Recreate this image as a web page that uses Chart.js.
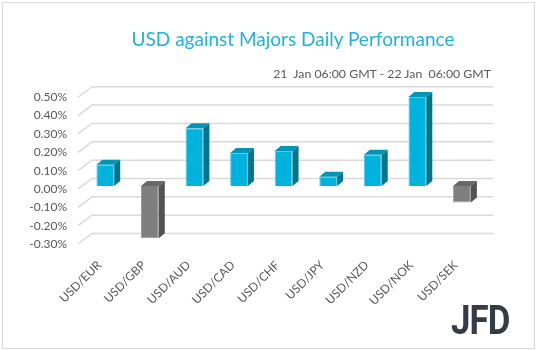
<!DOCTYPE html>
<html>
<head>
<meta charset="utf-8">
<script src="https://cdn.jsdelivr.net/npm/chart.js@4/dist/chart.umd.min.js"></script>
<style>
  html, body { margin: 0; padding: 0; background: #fff; }
  #wrap { position: relative; width: 538px; height: 351px; overflow: hidden; }
  #c { position: absolute; left: 0; top: 0; }
  .title { position: absolute; left: 0; width: 586px; top: 28px; text-align: center;
           font: 19px/22px Lato, "Noto Sans", sans-serif; color: #1fb2de; white-space: nowrap; }
  .sub { position: absolute; right: 47px; top: 66px; text-align: right;
         font: 12.3px/16px Lato, "Noto Sans", sans-serif; color: #595959; white-space: pre; }
  .logo { position: absolute; left: 451px; top: 299px; font: bold 40px/44px Roboto, "DejaVu Sans", sans-serif;
          color: #363c46; transform: scaleX(0.87); transform-origin: left top; letter-spacing: -1px; }
</style>
</head>
<body>
<div id="wrap">
  <canvas id="c" width="538" height="351"></canvas>
  <div class="title">USD against Majors Daily Performance</div>
  <div class="sub">21  Jan 06:00 GMT - 22 Jan  06:00 GMT</div>
  <div class="logo">JFD</div>
</div>
<script>
const categories = ['USD/EUR','USD/GBP','USD/AUD','USD/CAD','USD/CHF','USD/JPY','USD/NZD','USD/NOK','USD/SEK'];
const performance = [0.115, -0.285, 0.315, 0.18, 0.19, 0.05, 0.17, 0.485, -0.09];
const yTicks = [-0.3, -0.2, -0.1, 0.0, 0.1, 0.2, 0.3, 0.4, 0.5];

const POS = { front: '#00b3dc', top: '#0094b5', side: '#00758d', edge: '#55cbe8' };
const NEG = { front: '#7f7f7f', top: '#686868', side: '#525252', edge: '#9a9a9a' };
const pal = v => (v >= 0 ? POS : NEG);

const DX = 6, DY = -5;

const frame = {
  id: 'frame',
  beforeDraw(chart) {
    const ctx = chart.ctx;
    ctx.save();
    ctx.fillStyle = '#fff';
    ctx.fillRect(0, 0, chart.width, chart.height);
    ctx.strokeStyle = '#d9d9d9';
    ctx.lineWidth = 1;
    ctx.strokeRect(2.5, 2.5, 532, 346);
    ctx.restore();
  }
};

const threeD = {
  id: 'threeD',
  beforeDatasetsDraw(chart) {
    const { ctx, chartArea, scales } = chart;
    const y = scales.y;
    ctx.save();
    ctx.strokeStyle = '#dadada';
    ctx.lineWidth = 1.5;
    y.ticks.forEach(t => {
      const py = y.getPixelForValue(t.value);
      ctx.beginPath();
      ctx.moveTo(chartArea.left - 5, py + 3);
      ctx.lineTo(chartArea.left + 9, py - 7.5);
      ctx.lineTo(chartArea.right + 9, py - 7.5);
      ctx.stroke();
    });
    ctx.restore();
  },
  afterDatasetsDraw(chart) {
    const ctx = chart.ctx;
    const meta = chart.getDatasetMeta(0);
    meta.data.forEach((bar, i) => {
      const p = bar.getProps(['x', 'y', 'base', 'width'], true);
      const c = pal(performance[i]);
      const l = p.x - p.width / 2, r = p.x + p.width / 2;
      const top = Math.min(p.y, p.base), bot = Math.max(p.y, p.base);
      ctx.save();
      ctx.fillStyle = c.top;
      ctx.beginPath();
      ctx.moveTo(l, top);
      ctx.lineTo(l + DX, top + DY);
      ctx.lineTo(r + DX, top + DY);
      ctx.lineTo(r, top);
      ctx.closePath();
      ctx.fill();
      ctx.fillStyle = c.side;
      ctx.beginPath();
      ctx.moveTo(r, top);
      ctx.lineTo(r + DX, top + DY);
      ctx.lineTo(r + DX, bot + DY);
      ctx.lineTo(r, bot);
      ctx.closePath();
      ctx.fill();
      ctx.restore();
    });
  }
};

new Chart(document.getElementById('c'), {
  type: 'bar',
  data: {
    labels: categories,
    datasets: [{
      data: performance,
      backgroundColor: performance.map(v => pal(v).front),
      borderColor: performance.map(v => pal(v).edge),
      borderWidth: 1,
      categoryPercentage: 1,
      barPercentage: 0.4
    }]
  },
  options: {
    responsive: false,
    animation: false,
    layout: { padding: { top: 94.25, right: 53.75, left: 0, bottom: 0 } },
    plugins: { legend: { display: false }, tooltip: { enabled: false }, title: { display: false } },
    scales: {
      x: {
        offset: true,
        grid: { display: false, drawTicks: false },
        border: { display: false },
        ticks: {
          color: '#595959',
          font: { family: 'Lato', size: 12 },
          minRotation: 45, maxRotation: 45,
          padding: 17,
          labelOffset: -6,
          autoSkip: false
        },
        afterFit(s) { s.height = 110; }
      },
      y: {
        min: -0.3, max: 0.5,
        afterBuildTicks(s) { s.ticks = yTicks.map(v => ({ value: v })); },
        grid: { display: false, drawTicks: false },
        border: { display: false },
        ticks: {
          color: '#595959',
          font: { family: 'Lato', size: 12 },
          padding: 16,
          labelOffset: 3,
          callback: v => v.toFixed(2) + '%'
        },
        afterFit(s) { s.width = 83; }
      }
    }
  },
  plugins: [frame, threeD]
});
</script>
</body>
</html>
